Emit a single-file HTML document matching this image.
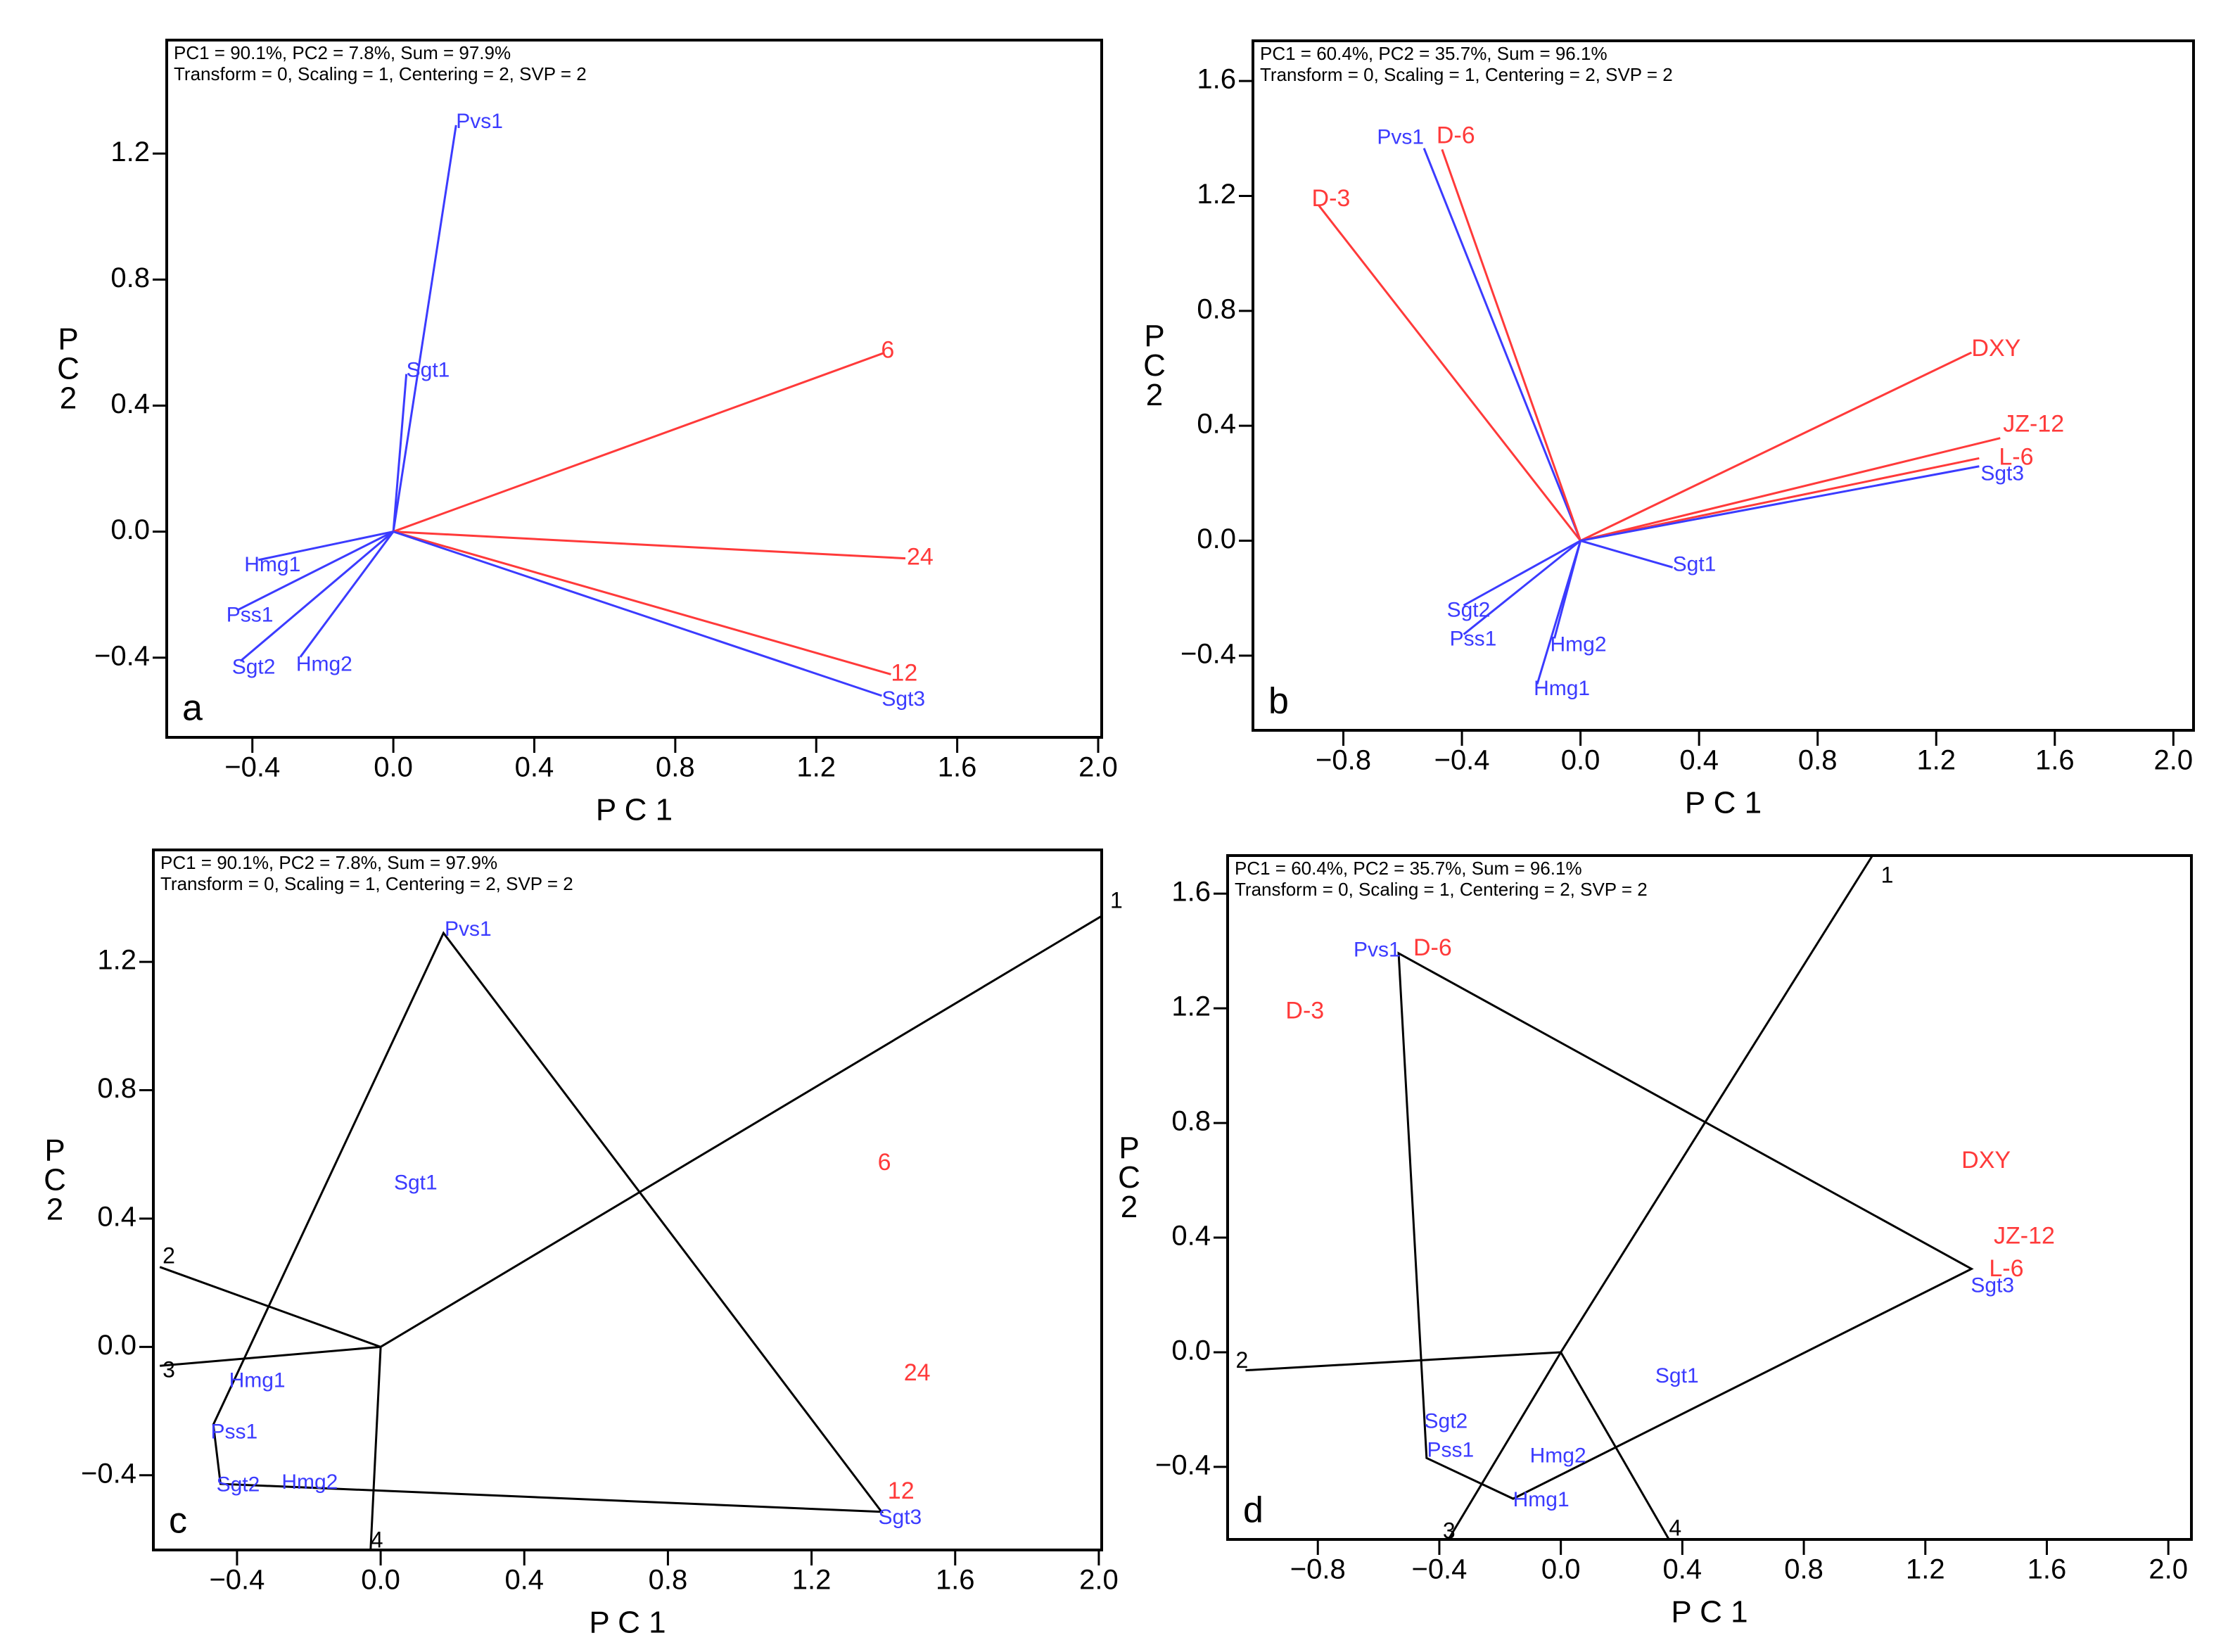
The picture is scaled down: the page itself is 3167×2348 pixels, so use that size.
<!DOCTYPE html>
<html><head><meta charset="utf-8"><style>
html,body{margin:0;padding:0;background:#fff}
svg{display:block;font-family:"Liberation Sans Narrow","Liberation Sans",sans-serif}
</style></head><body>
<svg id="fig" width="3167" height="2348" viewBox="0 0 3167 2348" xmlns="http://www.w3.org/2000/svg"></svg>
<script>
// ---- data: panel a / c (trial set 1)
const namesA = ["Pvs1","Sgt1","6","24","12","Sgt3","Hmg1","Pss1","Sgt2","Hmg2"];
const xA = [0.178,0.037,1.392,1.453,1.412,1.386,-0.383,-0.444,-0.434,-0.264];
const yA = [1.29,0.50,0.567,-0.085,-0.453,-0.521,-0.09,-0.25,-0.411,-0.398];
const redA = [false,false,true,true,true,false,false,false,false,false];
// ---- data: panel b / d (trial set 2)
const namesB = ["D-3","Pvs1","D-6","DXY","JZ-12","L-6","Sgt3","Sgt1","Sgt2","Pss1","Hmg2","Hmg1"];
const xB = [-0.883,-0.528,-0.467,1.319,1.416,1.345,1.345,0.311,-0.394,-0.394,-0.088,-0.146];
const yB = [1.167,1.366,1.362,0.655,0.357,0.287,0.259,-0.093,-0.225,-0.326,-0.34,-0.499];
const redB = [true,false,true,true,true,true,false,false,false,false,false,false];
// ---- hulls and sector rays (which-won-where)
const hullC = ["Pvs1","Sgt3","Sgt2","Pss1"];
const hullCx = [0.175,1.395,-0.446,-0.466];
const hullCy = [1.29,-0.514,-0.427,-0.242];
const raysCx = [2.008,-0.615,-0.615,-0.028];
const raysCy = [1.343,0.249,-0.059,-0.633];
const hullD = ["Pvs1","Sgt3","Hmg1","Pss1"];
const hullDx = [-0.534,1.352,-0.157,-0.442];
const hullDy = [1.392,0.291,-0.511,-0.369];
const raysDx = [1.026,-1.038,-0.37,0.356];
const raysDy = [1.733,-0.063,-0.653,-0.653];
const rayLabels = ["1","2","3","4"];
// ---- ticks
const xTicksA = [-0.4,0.0,0.4,0.8,1.2,1.6,2.0];
const yTicksA = [-0.4,0.0,0.4,0.8,1.2];
const xTicksB = [-0.8,-0.4,0.0,0.4,0.8,1.2,1.6,2.0];
const yTicksB = [-0.4,0.0,0.4,0.8,1.2,1.6];
const headerA = ["PC1 = 90.1%, PC2 = 7.8%, Sum = 97.9%","Transform = 0, Scaling = 1,  Centering = 2,  SVP = 2"];
const headerB = ["PC1 = 60.4%, PC2 = 35.7%, Sum = 96.1%","Transform = 0, Scaling = 1,  Centering = 2,  SVP = 2"];
// label offsets (style, px)
const offA = [[0,-4],[0,-4],[-4,-2],[2,0],[0,0],[0,6],[-20,8],[-15,8],[-12,10],[-6,12]];
const offB = [[-10,-8],[0,-14],[-8,-18],[0,-4],[4,-18],[28,0],[2,12],[0,-3],[-24,8],[-20,8],[-6,10],[-5,8]];

const NS="http://www.w3.org/2000/svg";
const svg=document.getElementById('fig');
function mk(tag,attrs,parent){const e=document.createElementNS(NS,tag);for(const k in attrs)e.setAttribute(k,attrs[k]);(parent||svg).appendChild(e);return e;}
const BLUE="#3b3bff", RED="#ff3a3a";
function fmt(v){const s=Math.abs(v).toFixed(1);return v<-1e-9?"\u2212"+s:s;}

function panel(p){
  const g=mk('g',{});
  
  
  const sx=v=>p.L+(v-p.x0)/(p.x1-p.x0)*(p.R-p.L);
  const sy=v=>p.B-(v-p.y0)/(p.y1-p.y0)*(p.B-p.T);
  const ox=sx(0), oy=sy(0);
  const plot=mk('g',{},g);
  
  
  if(p.vectors){
    for(let i=0;i<p.names.length;i++){
      const l=mk('line',{x1:ox,y1:oy,x2:sx(p.xs[i]),y2:sy(p.ys[i]),stroke:p.red[i]?RED:BLUE,'stroke-width':3},plot);
      
      
    }
  }
  if(p.hx){
    let d="";
    for(let i=0;i<p.hx.length;i++)d+=(i?"L":"M")+sx(p.hx[i])+","+sy(p.hy[i]);
    const poly=mk('path',{d:d+"Z",fill:"none",stroke:"#000",'stroke-width':3},plot);
    
    
    for(let i=0;i<p.rx.length;i++){
      const r=mk('line',{x1:ox,y1:oy,x2:sx(p.rx[i]),y2:sy(p.ry[i]),stroke:"#000",'stroke-width':3},plot);
      
      
      const lx=sx(p.rx[i])+p.rayOff[i][0], ly=sy(p.ry[i])+p.rayOff[i][1];
      const t=mk('text',{x:lx,y:ly,'font-size':32,fill:"#000",'dominant-baseline':'middle'},plot);
      t.textContent=rayLabels[i];
      
      
    }
  }
  for(let i=0;i<p.names.length;i++){
    const o=p.off[i];
    const anchor=(p.names[i]==="Pvs1"&&p.id==="b")||(p.names[i]==="Pvs1"&&p.id==="d")?"end":"start";
    const t=mk('text',{x:sx(p.xs[i])+o[0],y:sy(p.ys[i])+o[1],'font-size':p.red[i]?34:30,fill:p.red[i]?RED:BLUE,'dominant-baseline':'middle','text-anchor':anchor},plot);
    t.textContent=p.names[i];
    
    
  }
  const fr=mk('rect',{x:p.L,y:p.T,width:p.R-p.L,height:p.B-p.T,fill:"none",stroke:"#000",'stroke-width':4},g);
  
  
  const xa=mk('g',{},g);
  
  
  for(const v of p.xt){
    mk('line',{x1:sx(v),y1:p.B,x2:sx(v),y2:p.B+22,stroke:"#000",'stroke-width':3},xa);
    const t=mk('text',{x:sx(v),y:p.B+45,'font-size':40,'text-anchor':'middle','dominant-baseline':'middle',fill:"#000"},xa);
    t.textContent=fmt(v);
    
    
  }
  const ya=mk('g',{},g);
  
  
  for(const v of p.yt){
    mk('line',{x1:p.L-20,y1:sy(v),x2:p.L,y2:sy(v),stroke:"#000",'stroke-width':3},ya);
    const t=mk('text',{x:p.L-24,y:sy(v),'font-size':40,'text-anchor':'end','dominant-baseline':'middle',fill:"#000"},ya);
    t.textContent=fmt(v);
    
    
  }
  const xt=mk('text',{x:(p.L+p.R)/2,y:p.B+106,'font-size':44,'text-anchor':'middle','dominant-baseline':'middle',fill:"#000"},g);
  xt.textContent="P C 1";
  
  
  const yt=mk('text',{x:p.L-140,y:(p.T+p.B)/2-56,'font-size':44,'text-anchor':'middle',fill:"#000"},g);
  
  
  ["P","C","2"].forEach((c,i)=>{const s=mk('tspan',{x:p.L-140,dy:i?42:0},yt);s.textContent=c;});
  p.header.forEach((h,i)=>{
    const t=mk('text',{x:p.L+10,y:p.T+20+i*30,'font-size':26,'dominant-baseline':'middle',fill:"#000"},g);
    t.textContent=h;
    
    
  });
  const pl=mk('text',{x:p.L+22,y:p.B-38,'font-size':52,'dominant-baseline':'middle',fill:"#000"},g);
  pl.textContent=p.id;
  
  
}

panel({id:"a",L:237,R:1566,T:57,B:1048,x0:-0.643,x1:2.01,y0:-0.653,y1:1.56,names:namesA,xs:xA,ys:yA,red:redA,off:offA,vectors:true,xt:xTicksA,yt:yTicksA,header:headerA});
panel({id:"b",L:1781,R:3118,T:58,B:1038,x0:-1.105,x1:2.068,y0:-0.66,y1:1.74,names:namesB,xs:xB,ys:yB,red:redB,off:offB,vectors:true,xt:xTicksB,yt:yTicksB,header:headerB});
panel({id:"c",L:218,R:1566,T:1208,B:2203,x0:-0.633,x1:2.008,y0:-0.633,y1:1.549,names:namesA,xs:xA,ys:yA,red:redA,off:offA,vectors:false,hx:hullCx,hy:hullCy,rx:raysCx,ry:raysCy,rayOff:[[12,-20],[4,-14],[4,8],[0,-12]],xt:xTicksA,yt:yTicksA,header:headerA});
panel({id:"d",L:1745,R:3115,T:1216,B:2188,x0:-1.097,x1:2.076,y0:-0.653,y1:1.733,names:namesB,xs:xB,ys:yB,red:redB,off:offB,vectors:false,hx:hullDx,hy:hullDy,rx:raysDx,ry:raysDy,rayOff:[[12,30],[-14,-12],[-8,-10],[0,-14]],xt:xTicksB,yt:yTicksB,header:headerB});
</script>
</body></html>
